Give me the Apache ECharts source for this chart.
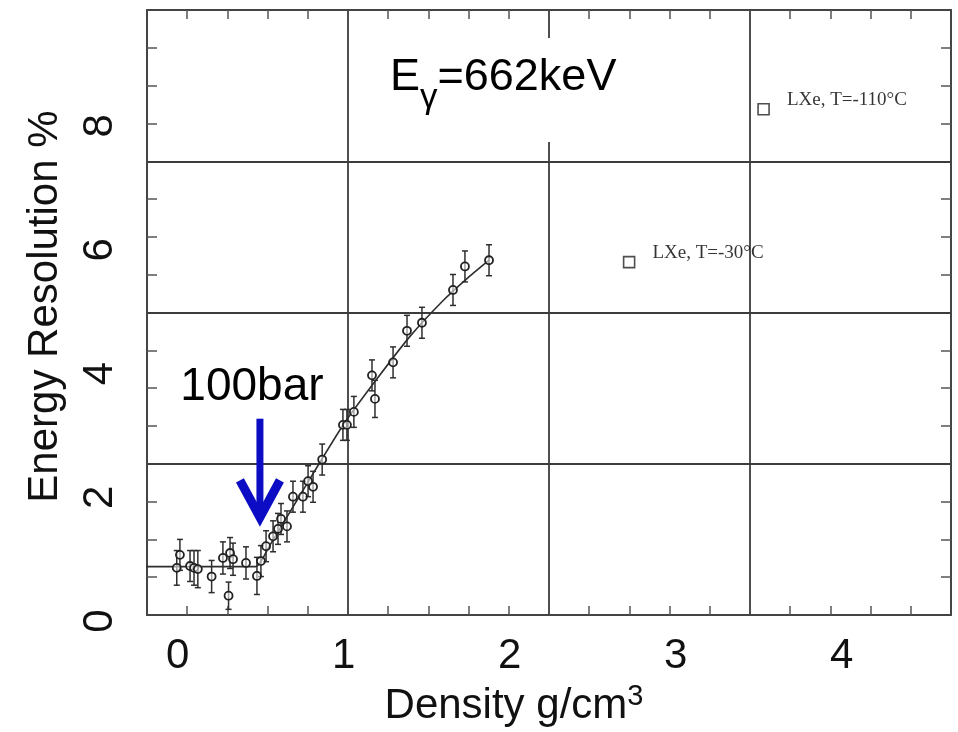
<!DOCTYPE html>
<html>
<head>
<meta charset="utf-8">
<script src="https://cdn.jsdelivr.net/npm/echarts@6/dist/echarts.min.js"></script>
<style>
  html, body { margin: 0; padding: 0; background: #fff; }
  #chart { width: 958px; height: 732px; }
</style>
</head>
<body>
<div id="chart"></div>
<script>
// Xenon energy resolution for 662 keV gammas as a function of density

// gas-phase measurements (density g/cm3, resolution %, error %)
const density = [-0.005, 0.014, 0.075, 0.099, 0.122, 0.205, 0.273, 0.307, 0.316, 0.334,
  0.412, 0.478, 0.502, 0.533, 0.575, 0.605, 0.623, 0.659, 0.695, 0.755,
  0.786, 0.816, 0.871, 0.996, 1.020, 1.062, 1.171, 1.189, 1.298, 1.382,
  1.472, 1.659, 1.731, 1.876];
const resolution = [0.86, 1.07, 0.89, 0.86, 0.84, 0.72, 1.02, 0.41, 1.10, 1.00,
  0.94, 0.73, 0.97, 1.21, 1.37, 1.49, 1.65, 1.53, 2.01, 2.01,
  2.26, 2.17, 2.61, 3.17, 3.17, 3.38, 3.97, 3.59, 4.18, 4.69,
  4.82, 5.35, 5.73, 5.83];
const resolutionErr = [0.28, 0.25, 0.25, 0.28, 0.30, 0.26, 0.26, 0.22, 0.25, 0.26,
  0.26, 0.30, 0.25, 0.25, 0.25, 0.25, 0.25, 0.25, 0.25, 0.25,
  0.25, 0.25, 0.25, 0.25, 0.25, 0.25, 0.25, 0.30, 0.25, 0.25,
  0.25, 0.25, 0.25, 0.25];

// fitted curve through the gas data
const fitDensity = [-0.19, 0.47, 0.55, 0.75, 1.0, 1.2, 1.4, 1.6, 1.75, 1.88];
const fitResolution = [0.88, 0.88, 1.20, 2.09, 3.18, 3.91, 4.60, 5.18, 5.55, 5.84];

// liquid xenon reference points
const liquidDensity = [3.53, 2.72];
const liquidResolution = [8.27, 5.80];
const liquidLabels = ['LXe, T=-110°C', 'LXe, T=-30°C'];

// axis tick labels
const xTickValues = [0, 1, 2, 3, 4];
const yTickValues = [0, 2, 4, 6, 8];

// "100bar" marker: density, arrow tail, arrow tip
const arrowMark = [[0.496, 3.27, 1.53]];

const SANS = '"Liberation Sans", Arial, Helvetica, sans-serif';
const SERIF = '"Liberation Serif", "Times New Roman", serif';
const INK = '#2e2e2e';
const BLUE = '#0c0cc4';

const chart = echarts.init(document.getElementById('chart'));

const frameAxisCommon = {
  min: 0, max: 4, interval: 1,
  axisLabel: { show: false },
  axisTick: { show: false, inside: true },
  axisLine: { show: true, onZero: false, lineStyle: { color: '#444', width: 2 } },
  axisPointer: { show: false }
};
const minorX = { show: true, splitNumber: 5, length: 9, lineStyle: { color: '#555', width: 1.5 } };
const minorY = { show: true, splitNumber: 4, length: 10, lineStyle: { color: '#555', width: 1.5 } };
const ruleStyle = { show: true, lineStyle: { color: '#3c3c3c', width: 1.8 } };

chart.setOption({
  animation: false,
  backgroundColor: '#fff',
  grid: [
    // data grid: value 0 of the resolution axis sits just below the frame
    { left: 147, right: 7, top: 10, bottom: 106.4, containLabel: false },
    // ruled frame of the plot
    { left: 147, right: 7, top: 10, bottom: 117, containLabel: false }
  ],
  xAxis: [
    {
      type: 'value', gridIndex: 0, min: -0.1843, max: 4.659,
      name: '{a|Density g/cm}{b|3}',
      nameLocation: 'middle', nameGap: 55,
      nameTextStyle: {
        padding: [0, 70, 0, 0],
        rich: {
          a: { fontSize: 42, fontFamily: SANS, color: '#111', lineHeight: 48 },
          b: { fontSize: 29, fontFamily: SANS, color: '#111', lineHeight: 29, verticalAlign: 'top' }
        }
      },
      axisLine: { show: false }, axisTick: { show: false }, splitLine: { show: false },
      axisLabel: {
        customValues: xTickValues, margin: 14,
        fontSize: 42, fontFamily: SANS, color: '#111'
      }
    },
    Object.assign({ type: 'value', gridIndex: 1, position: 'bottom', splitLine: ruleStyle, minorTick: minorX }, frameAxisCommon),
    Object.assign({ type: 'value', gridIndex: 1, position: 'top', splitLine: { show: false }, minorTick: minorX }, frameAxisCommon)
  ],
  yAxis: [
    {
      type: 'value', gridIndex: 0, min: 0, max: 9.873,
      name: 'Energy Resolution %',
      nameLocation: 'middle', nameGap: 81,
      nameTextStyle: { fontSize: 42, fontFamily: SANS, color: '#111', padding: [0, 0, 0, 18] },
      axisLine: { show: false }, axisTick: { show: false }, splitLine: { show: false },
      axisLabel: {
        customValues: yTickValues, rotate: 90, margin: 26,
        fontSize: 42, fontFamily: SANS, color: '#111'
      }
    },
    Object.assign({ type: 'value', gridIndex: 1, position: 'left', splitLine: ruleStyle, minorTick: minorY }, frameAxisCommon),
    Object.assign({ type: 'value', gridIndex: 1, position: 'right', splitLine: { show: false }, minorTick: minorY }, frameAxisCommon)
  ],
  graphic: [{
    type: 'text', left: 356, top: 38, z: 10,
    style: {
      text: '{e|E}{g|γ}{e|=662keV}',
      backgroundColor: '#fff',
      padding: [15, 24, 39, 34],
      rich: {
        e: { fontSize: 45, fontFamily: SANS, fill: '#000', lineHeight: 50 },
        g: { fontSize: 35, fontFamily: SANS, fill: '#000', lineHeight: 20, padding: [40, 0, 0, 0] }
      }
    }
  }],
  series: [
    {
      // fitted curve
      type: 'line', xAxisIndex: 0, yAxisIndex: 0,
      data: fitDensity.map((d, i) => [d, fitResolution[i]]),
      showSymbol: false, smooth: 0.2, clip: true,
      lineStyle: { color: INK, width: 1.6 },
      z: 2
    },
    {
      // error bars
      type: 'custom', xAxisIndex: 0, yAxisIndex: 0,
      data: density.map((d, i) => [d, resolution[i] - resolutionErr[i], resolution[i] + resolutionErr[i]]),
      encode: { x: 0, y: [1, 2] },
      renderItem: function (params, api) {
        const lo = api.coord([api.value(0), api.value(1)]);
        const hi = api.coord([api.value(0), api.value(2)]);
        const w = 3;
        const st = { stroke: INK, lineWidth: 1.5 };
        return {
          type: 'group',
          children: [
            { type: 'line', shape: { x1: lo[0], y1: lo[1], x2: hi[0], y2: hi[1] }, style: st },
            { type: 'line', shape: { x1: lo[0] - w, y1: lo[1], x2: lo[0] + w, y2: lo[1] }, style: st },
            { type: 'line', shape: { x1: hi[0] - w, y1: hi[1], x2: hi[0] + w, y2: hi[1] }, style: st }
          ]
        };
      },
      z: 3
    },
    {
      // gas data points
      type: 'scatter', xAxisIndex: 0, yAxisIndex: 0,
      data: density.map((d, i) => [d, resolution[i]]),
      symbol: 'circle', symbolSize: 8,
      itemStyle: { color: 'rgba(255,255,255,0.55)', borderColor: '#222', borderWidth: 1.8, opacity: 1 },
      z: 4
    },
    {
      // liquid xenon points
      type: 'scatter', xAxisIndex: 0, yAxisIndex: 0,
      data: liquidDensity.map((d, i) => ({ value: [d, liquidResolution[i]], label: { formatter: liquidLabels[i] } })),
      symbol: 'rect', symbolSize: 11,
      itemStyle: { color: '#fff', borderColor: '#222', borderWidth: 1.6 },
      label: {
        show: true, position: 'right', distance: 17, offset: [0, -9],
        fontSize: 19, fontFamily: SERIF, color: '#000'
      },
      z: 4
    },
    {
      // "100bar" arrow
      type: 'custom', xAxisIndex: 0, yAxisIndex: 0,
      data: arrowMark,
      renderItem: function (params, api) {
        const tail = api.coord([api.value(0), api.value(1)]);
        const tip = api.coord([api.value(0), api.value(2)]);
        return {
          type: 'group',
          children: [
            { type: 'line', shape: { x1: tail[0], y1: tail[1], x2: tip[0], y2: tip[1] - 8 },
              style: { stroke: BLUE, lineWidth: 7 } },
            { type: 'polyline',
              shape: { points: [[tip[0] - 20, tip[1] - 46], [tip[0], tip[1] - 9], [tip[0] + 20, tip[1] - 46]] },
              style: { stroke: BLUE, lineWidth: 9, fill: null, lineJoin: 'miter', lineCap: 'butt' } },
            { type: 'text',
              style: { text: '100bar', x: tail[0] - 8, y: tail[1] - 31, align: 'center', verticalAlign: 'middle',
                fontSize: 46, fontFamily: SANS, fill: '#000' } }
          ]
        };
      },
      z: 6
    }
  ]
});
</script>
</body>
</html>
